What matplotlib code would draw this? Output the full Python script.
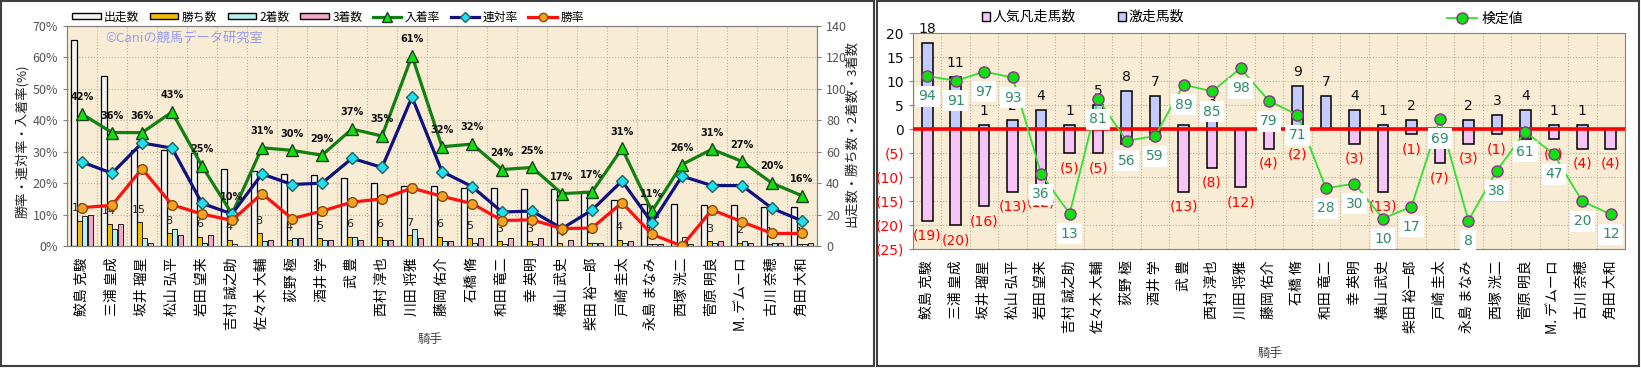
import matplotlib
matplotlib.use("Agg")
import matplotlib.pyplot as plt
from matplotlib.patches import Rectangle, Patch
from matplotlib.lines import Line2D
import numpy as np

plt.rcParams['font.family'] = ['Noto Sans CJK JP', 'DejaVu Sans']

# --- data ---
jockeys = ["鮫島 克駿", "三浦 皇成", "坂井 瑠星", "松山 弘平", "岩田 望来", "吉村 誠之助",
           "佐々木 大輔", "荻野 極", "酒井 学", "武 豊", "西村 淳也", "川田 将雅",
           "藤岡 佑介", "石橋 脩", "和田 竜二", "幸 英明", "横山 武史", "柴田 裕一郎",
           "戸崎 圭太", "永島 まなみ", "西塚 洸二", "菅原 明良", "M. デムーロ", "古川 奈穂",
           "角田 大和"]

runs = [131, 108, 61, 61, 59, 49, 48, 46, 45, 43, 40, 38, 38, 37, 37, 36, 36, 35,
        29, 27, 27, 26, 26, 25, 25]
wins = [16, 14, 15, 8, 6, 4, 8, 4, 5, 6, 6, 7, 6, 5, 3, 3, 2, 2, 4, 1, 0, 3, 2, 1, 1]
seconds = [19, 11, 5, 11, 2, 1, 3, 5, 4, 6, 4, 11, 3, 2, 1, 1, 0, 2, 2, 1, 6, 2, 3, 2, 1]
thirds = [20, 14, 2, 7, 7, 0, 4, 5, 4, 4, 4, 5, 3, 5, 5, 5, 4, 2, 3, 1, 1, 3, 2, 2, 2]

# right chart
gekisou = [18, 11, 1, 2, 4, 1, 5, 8, 7, 1, 3, 0, 0, 9, 7, 4, 1, 2, 0, 2, 3, 4, 1, 1, 0]
bonsou = [19, 20, 16, 13, 12, 5, 5, 3, 2, 13, 8, 12, 4, 2, 0, 3, 13, 1, 7, 3, 1, 2, 2, 4, 4]
kentei = [94, 91, 97, 93, 36, 13, 81, 56, 59, 89, 85, 98, 79, 71, 28, 30, 10, 17, 69, 8,
          38, 61, 47, 20, 12]
kentei_pos = [11.1, 10.1, 12.0, 10.8, -9.3, -17.6, 6.3, -2.4, -1.4, 9.3, 7.9, 12.7, 5.9,
              3.0, -12.3, -11.3, -18.6, -16.1, 2.2, -19.0, -8.6, -0.5, -5.2, -15.0, -17.7]

runs_a = np.array(runs)
win_rate = np.array(wins) / runs_a
rentai_rate = (np.array(wins) + np.array(seconds)) / runs_a
fuku_rate = (np.array(wins) + np.array(seconds) + np.array(thirds)) / runs_a

W, H = 1641, 368
fig = plt.figure(figsize=(W / 100, H / 100), dpi=100)
fig.patch.set_facecolor('white')

# panel borders
fig.patches.append(Rectangle((1 / W, 2 / H), 873 / W, 365 / H, transform=fig.transFigure,
                             fill=False, edgecolor='#404040', linewidth=1.5))
fig.patches.append(Rectangle((877 / W, 2 / H), 762 / W, 365 / H, transform=fig.transFigure,
                             fill=False, edgecolor='#404040', linewidth=1.5))

bg = '#f8edd4'
grid_kw = dict(color='#b8b0a0', linestyle=':', linewidth=0.8)
x = np.arange(len(jockeys))

# ================= left chart =================
ax = fig.add_axes([67 / W, 1 - 246 / H, 750 / W, 220 / H])
ax.set_facecolor(bg)
ax.set_xlim(-0.5, len(jockeys) - 0.5)
ax.set_ylim(0, 140)
for b in np.arange(0.5, len(jockeys) - 0.5, 1):
    ax.axvline(b, zorder=0, **grid_kw)
for yv in range(20, 140, 20):
    ax.axhline(yv, zorder=0, **grid_kw)

ax.bar(x - 0.27, runs, 0.2, color='#f4f4f4', edgecolor='black', linewidth=0.9, zorder=2)
ax.bar(x - 0.09, wins, 0.16, color='#f0c000', edgecolor='black', linewidth=0.6, zorder=2)
ax.bar(x + 0.09, seconds, 0.16, color='#b8f0f0', edgecolor='black', linewidth=0.6, zorder=2)
ax.bar(x + 0.27, thirds, 0.16, color='#f4a8cc', edgecolor='black', linewidth=0.6, zorder=2)
for i, w in enumerate(wins):
    if w > 0:
        ax.annotate(str(w), (i - 0.09, w), xytext=(0, 9), textcoords='offset points',
                    ha='center', va='center', fontsize=8, color='#222222',
                    family=['DejaVu Sans'], zorder=3)

ax.set_xticks(x)
ax.set_xticklabels(jockeys, rotation=90, fontsize=10)
ax.tick_params(axis='x', length=0, pad=8)
for s in ax.spines.values():
    s.set_color('#808080')

ax2 = ax.twinx()
# bars use the right-hand scale, rates the left one
ax.yaxis.tick_right()
ax.set_yticks(range(0, 141, 20))
ax.tick_params(axis='y', labelsize=9, labelcolor='#555555', length=3, color='#808080')
ax2.set_ylim(0, 0.7)
ax2.yaxis.tick_left()
ax2.set_yticks(np.arange(0, 0.71, 0.1))
ax2.set_yticklabels([f'{int(round(v * 100))}%' for v in np.arange(0, 0.71, 0.1)])
ax2.tick_params(axis='y', labelsize=9, labelcolor='#555555', length=3, color='#808080')
for s in ax2.spines.values():
    s.set_color('#808080')

ax2.plot(x, fuku_rate, color='#108010', linewidth=2.3, marker='^', markersize=9,
         markerfacecolor='#10e010', markeredgecolor='#204020', zorder=3)
ax2.plot(x, rentai_rate, color='#101080', linewidth=2.3, marker='D', markersize=6,
         markerfacecolor='#20e0f0', markeredgecolor='#206060', zorder=4)
ax2.plot(x, win_rate, color='#ff1010', linewidth=2.3, marker='o', markersize=7,
         markerfacecolor='#f8a020', markeredgecolor='#805010', zorder=5)
for i, r in enumerate(fuku_rate):
    ax2.annotate(f'{int(round(r * 100))}%', (i, r), xytext=(0, 12), textcoords='offset points',
                 ha='center', va='center', fontsize=7, fontweight='bold', color='#111111',
                 family=['DejaVu Sans'])

fig.text(105 / W, 1 - 38 / H, '©Caniの競馬データ研究室', fontsize=9.5, color='#9a9cf0',
         ha='left', va='center')
fig.text(22 / W, 1 - 141 / H, '勝率・連対率・入着率(%)', rotation=90, fontsize=9.5,
         ha='center', va='center', color='#222222')
fig.text(852 / W, 1 - 134 / H, '出走数・勝ち数・2着数・3着数', rotation=90, fontsize=9.5,
         ha='center', va='center', color='#222222')
fig.text(430 / W, 1 - 339 / H, '騎手', fontsize=9, ha='center', va='center', color='#444444')

left_handles = [
    Patch(facecolor='#f4f4f4', edgecolor='black', label='出走数'),
    Patch(facecolor='#f0c000', edgecolor='black', label='勝ち数'),
    Patch(facecolor='#b8f0f0', edgecolor='black', label='2着数'),
    Patch(facecolor='#f4a8cc', edgecolor='black', label='3着数'),
    Line2D([], [], color='#108010', linewidth=2.3, marker='^', markersize=7,
           markerfacecolor='#10e010', markeredgecolor='#204020', label='入着率'),
    Line2D([], [], color='#101080', linewidth=2.3, marker='D', markersize=5,
           markerfacecolor='#20e0f0', markeredgecolor='#206060', label='連対率'),
    Line2D([], [], color='#ff1010', linewidth=2.3, marker='o', markersize=6,
           markerfacecolor='#f8a020', markeredgecolor='#805010', label='勝率'),
]
fig.legend(handles=left_handles, loc='center', bbox_to_anchor=(328 / W, 1 - 17 / H), ncol=7,
           frameon=False, fontsize=8.5, handlelength=2.4, handleheight=0.45,
           columnspacing=0.9, handletextpad=0.3)

# ================= right chart =================
bx = fig.add_axes([913 / W, 1 - 249.3 / H, 712 / W, 216 / H])
bx.set_facecolor(bg)
bx.set_xlim(-0.5, len(jockeys) - 0.5)
bx.set_ylim(-25, 20)
for b in np.arange(0.5, len(jockeys) - 0.5, 1):
    bx.axvline(b, zorder=0, **grid_kw)
for yv in range(-20, 20, 5):
    bx.axhline(yv, zorder=0, **grid_kw)

bx.bar(x, gekisou, 0.37, color='#c4ccff', edgecolor='black', linewidth=1.1, zorder=2)
bx.bar(x, [-v for v in bonsou], 0.37, color='#f6c4f6', edgecolor='black', linewidth=1.1, zorder=2)
bx.axhline(0, color='#ff0000', linewidth=2.6, zorder=3)

for i, v in enumerate(gekisou):
    if v > 0:
        bx.annotate(str(v), (i, v), xytext=(0, 10), textcoords='offset points', ha='center',
                    va='center', fontsize=10, color='#111111', family=['DejaVu Sans'], zorder=4)
for i, v in enumerate(bonsou):
    if v > 0:
        bx.annotate(f'({v})', (i, -v), xytext=(0, -11), textcoords='offset points',
                    ha='center', va='center', fontsize=10, color='#ff0000',
                    family=['DejaVu Sans'], zorder=4)

bx.plot(x, kentei_pos, color='#30e030', linewidth=1.3, marker='o', markersize=8,
        markerfacecolor='#10e010', markeredgecolor='#903090', markeredgewidth=1.0, zorder=5)
for i, (v, p) in enumerate(zip(kentei, kentei_pos)):
    bx.annotate(str(v), (i, p), xytext=(0, -14.5), textcoords='offset points', ha='center',
                va='center', fontsize=10, color='#2e8b6a', family=['DejaVu Sans'], zorder=6,
                bbox=dict(boxstyle='square,pad=0.25', facecolor='white', edgecolor='none'))

yt = list(range(-25, 21, 5))
bx.set_yticks(yt)
bx.set_yticklabels([str(v) if v >= 0 else f'({-v})' for v in yt], family=['DejaVu Sans'])
for lab, v in zip(bx.get_yticklabels(), yt):
    lab.set_color('#ff0000' if v < 0 else '#111111')
bx.tick_params(axis='y', labelsize=10, length=3, color='#808080')
bx.set_xticks(x)
bx.set_xticklabels(jockeys, rotation=90, fontsize=10)
bx.tick_params(axis='x', length=0, pad=8)
for s in bx.spines.values():
    s.set_color('#808080')

fig.text(1270 / W, 1 - 353 / H, '騎手', fontsize=9, ha='center', va='center', color='#444444')

right_handles = [
    Patch(facecolor='#f6c4f6', edgecolor='black', label='人気凡走馬数'),
    Patch(facecolor='#c4ccff', edgecolor='black', label='激走馬数'),
]
fig.legend(handles=right_handles, loc='center', bbox_to_anchor=(1083 / W, 1 - 17 / H), ncol=2,
           frameon=False, fontsize=10, handlelength=0.6, handleheight=0.6,
           columnspacing=3.0, handletextpad=0.2)
fig.legend(handles=[Line2D([], [], color='#30e030', linewidth=1.3, marker='o', markersize=8,
                           markerfacecolor='#10e010', markeredgecolor='#903090',
                           label='検定値')],
           loc='center', bbox_to_anchor=(1485 / W, 1 - 19 / H), frameon=False, fontsize=10,
           handlelength=2.2, handletextpad=0.3)

fig.savefig('out.png', dpi=100)
